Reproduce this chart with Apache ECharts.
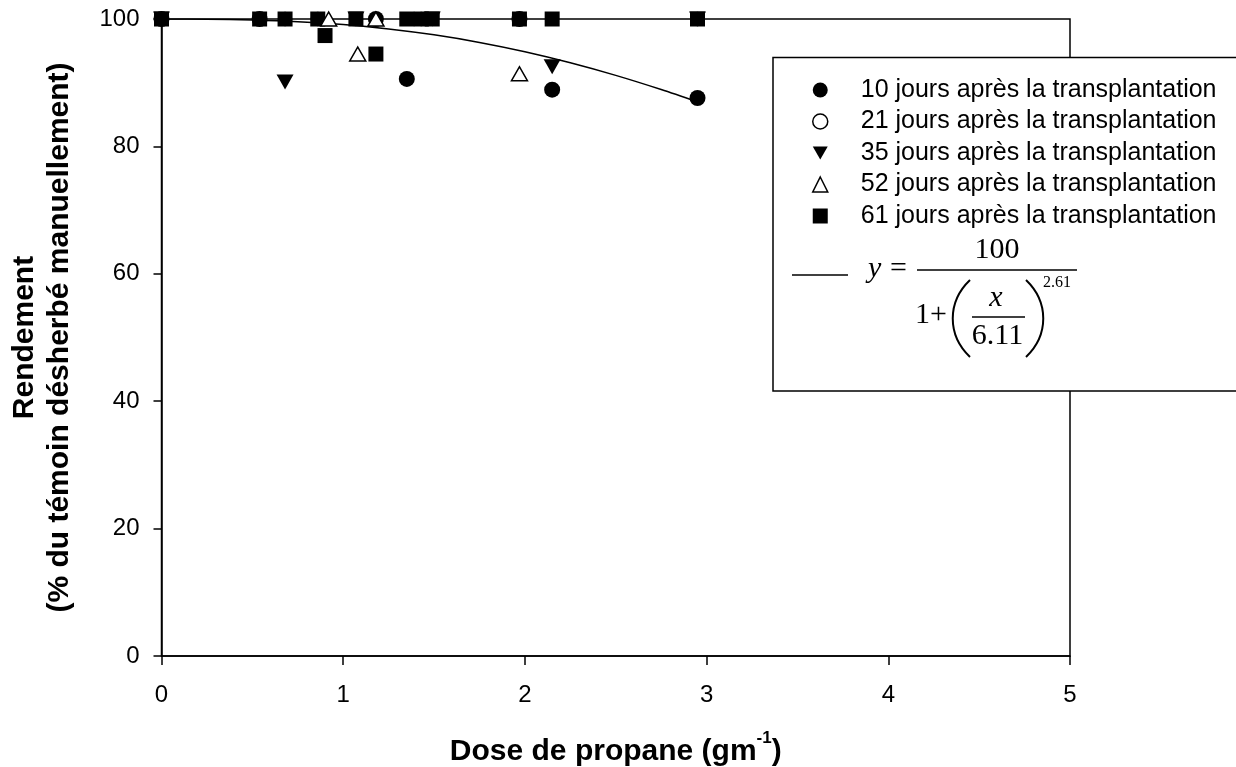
<!DOCTYPE html>
<html>
<head>
<meta charset="utf-8">
<script src="https://cdn.jsdelivr.net/npm/echarts@6/dist/echarts.min.js"></script>
<style>html,body{margin:0;padding:0;background:#fff}#c{width:1236px;height:767px}</style>
</head>
<body>
<div id="c"></div>
<script>
// ---- data ----
const seriesNames = [
  '10 jours après la transplantation',
  '21 jours après la transplantation',
  '35 jours après la transplantation',
  '52 jours après la transplantation',
  '61 jours après la transplantation'
];
const d10 = [[0,100],[0.54,100],[1.18,100],[1.35,90.6],[1.97,100],[2.15,88.9],[2.95,87.6]];
const d21 = [[0,100],[0.68,100],[0.86,100],[1.43,100],[1.97,100],[2.95,100]];
const d35 = [[0,100],[0.68,90.1],[1.07,100],[1.49,100],[2.15,92.5],[2.95,100]];
const d61 = [[0,100],[0.54,100],[0.68,100],[0.86,100],[0.90,97.4],[1.07,100],[1.18,94.5],
             [1.35,100],[1.43,100],[1.49,100],[1.97,100],[2.15,100],[2.95,100]];
const d52 = [[0.92,100],[1.08,94.5],[1.18,100],[1.97,91.4]];
// fitted curve y = 100 / (1 + (x/6.11)^2.61), values as read / tabulated
const fitX = [0, 0.25, 0.5, 0.75, 1.0, 1.25, 1.5, 1.75, 2.0, 2.25, 2.5, 2.75, 2.95];
const fitY = [100, 99.98, 99.85, 99.58, 99.12, 98.44, 97.51, 96.32, 94.86, 93.13, 91.15, 88.93, 87.0];

const FONT = '"Liberation Sans", Arial, sans-serif';
const SERIF = '"Liberation Serif", "Times New Roman", serif';

const chart = echarts.init(document.getElementById('c'), null, {renderer: 'canvas'});

const fitData = fitX.map((x, i) => [x, fitY[i]]);
const openStyle = {color: '#fff', borderColor: '#000', borderWidth: 1.5, opacity: 1};
const fillStyle = {color: '#000', borderWidth: 0, opacity: 1};
const downTri = 'path://M0,0L16,0L8,14Z';

const option = {
  animation: false,
  backgroundColor: '#fff',
  grid: {left: 161.5, right: 166, top: 19, bottom: 111, show: true, containLabel: false,
         outerBoundsMode: 'none',
         borderColor: '#000', borderWidth: 1.5, backgroundColor: 'transparent'},
  xAxis: {
    type: 'value', min: 0, max: 5, interval: 1,
    axisLine: {show: true, onZero: false, lineStyle: {color: '#000', width: 1.5}},
    axisTick: {show: true, inside: false, length: 9, lineStyle: {color: '#000', width: 1.5}},
    splitLine: {show: false},
    axisLabel: {fontSize: 24, color: '#000', fontFamily: FONT, margin: 27},
    name: '{a|Dose de propane (gm}{s|-1}{a|)}',
    nameLocation: 'middle', nameGap: 74,
    nameTextStyle: {
      rich: {
        a: {fontSize: 30, fontWeight: 'bold', fontFamily: FONT, color: '#000', lineHeight: 44},
        s: {fontSize: 17, fontWeight: 'bold', fontFamily: FONT, color: '#000', lineHeight: 17, verticalAlign: 'top'}
      }
    }
  },
  yAxis: {
    type: 'value', min: 0, max: 100, interval: 20,
    axisLine: {show: true, onZero: false, lineStyle: {color: '#000', width: 1.5}},
    axisTick: {show: true, inside: false, length: 8, lineStyle: {color: '#000', width: 1.5}},
    splitLine: {show: false},
    axisLabel: {fontSize: 24, color: '#000', fontFamily: FONT, margin: 22},
    name: 'Rendement\n(% du témoin désherbé manuellement)',
    nameLocation: 'middle', nameRotate: 90, nameGap: 84,
    nameTextStyle: {fontSize: 30, fontWeight: 'bold', fontFamily: FONT, color: '#000', lineHeight: 35}
  },
  legend: {
    orient: 'vertical', left: 812, top: 77.5, padding: 0,
    itemWidth: 15, itemHeight: 15, itemGap: 6.5, selectedMode: false,
    textStyle: {fontSize: 25, fontFamily: FONT, color: '#000', lineHeight: 25, padding: [0, 0, 0, 28]},
    data: [
      {name: seriesNames[0], icon: 'circle', itemStyle: fillStyle},
      {name: seriesNames[1], icon: 'circle', itemStyle: openStyle},
      {name: seriesNames[2], icon: downTri, itemStyle: fillStyle},
      {name: seriesNames[3], icon: 'triangle', itemStyle: openStyle},
      {name: seriesNames[4], icon: 'rect', itemStyle: fillStyle}
    ],
    z: 6
  },
  series: [
    {type: 'line', name: 'fit', data: fitData, showSymbol: false, smooth: 0.3,
     lineStyle: {color: '#000', width: 1.5}, z: 1, silent: true},
    {type: 'scatter', name: seriesNames[1], data: d21, symbol: 'circle', symbolSize: 13,
     itemStyle: openStyle, z: 2},
    {type: 'scatter', name: seriesNames[0], data: d10, symbol: 'circle', symbolSize: 16,
     itemStyle: fillStyle, z: 2},
    {type: 'scatter', name: seriesNames[2], data: d35, symbol: downTri, symbolSize: [17, 15],
     itemStyle: fillStyle, z: 2},
    {type: 'scatter', name: seriesNames[4], data: d61, symbol: 'rect', symbolSize: 15,
     itemStyle: fillStyle, z: 2},
    {type: 'scatter', name: seriesNames[3], data: d52, symbol: 'triangle', symbolSize: [16, 14],
     itemStyle: openStyle, z: 2}
  ],
  graphic: [
    {type: 'rect', z: 3, shape: {x: 773, y: 57.5, width: 480, height: 333.5},
     style: {fill: '#fff', stroke: '#000', lineWidth: 1.5}},
    {type: 'line', z: 5, shape: {x1: 792, y1: 275, x2: 848, y2: 275}, style: {stroke: '#000', lineWidth: 1.5}},
    {type: 'text', z: 5, x: 868, y: 269, style: {text: 'y', font: 'italic 30px ' + SERIF, fill: '#000', verticalAlign: 'middle', align: 'left'}},
    {type: 'text', z: 5, x: 890, y: 269, style: {text: '=', font: '30px ' + SERIF, fill: '#000', verticalAlign: 'middle', align: 'left'}},
    {type: 'line', z: 5, shape: {x1: 917, y1: 270, x2: 1077, y2: 270}, style: {stroke: '#000', lineWidth: 1.5}},
    {type: 'text', z: 5, x: 997, y: 250.5, style: {text: '100', font: '30px ' + SERIF, fill: '#000', verticalAlign: 'middle', align: 'center'}},
    {type: 'text', z: 5, x: 915, y: 315.5, style: {text: '1+', font: '30px ' + SERIF, fill: '#000', verticalAlign: 'middle', align: 'left'}},
    {type: 'bezierCurve', z: 5, shape: {x1: 970, y1: 280, cpx1: 947, cpy1: 302, cpx2: 947, cpy2: 335, x2: 970, y2: 357},
     style: {stroke: '#000', lineWidth: 2, fill: null}},
    {type: 'bezierCurve', z: 5, shape: {x1: 1026, y1: 280, cpx1: 1049, cpy1: 302, cpx2: 1049, cpy2: 335, x2: 1026, y2: 357},
     style: {stroke: '#000', lineWidth: 2, fill: null}},
    {type: 'text', z: 5, x: 996, y: 298.5, style: {text: 'x', font: 'italic 30px ' + SERIF, fill: '#000', verticalAlign: 'middle', align: 'center'}},
    {type: 'line', z: 5, shape: {x1: 972, y1: 317, x2: 1025, y2: 317}, style: {stroke: '#000', lineWidth: 1.5}},
    {type: 'text', z: 5, x: 997.5, y: 336.5, style: {text: '6.11', font: '30px ' + SERIF, fill: '#000', verticalAlign: 'middle', align: 'center'}},
    {type: 'text', z: 5, x: 1043, y: 283, style: {text: '2.61', font: '16px ' + SERIF, fill: '#000', verticalAlign: 'middle', align: 'left'}}
  ]
};
chart.setOption(option);
</script>
</body>
</html>
